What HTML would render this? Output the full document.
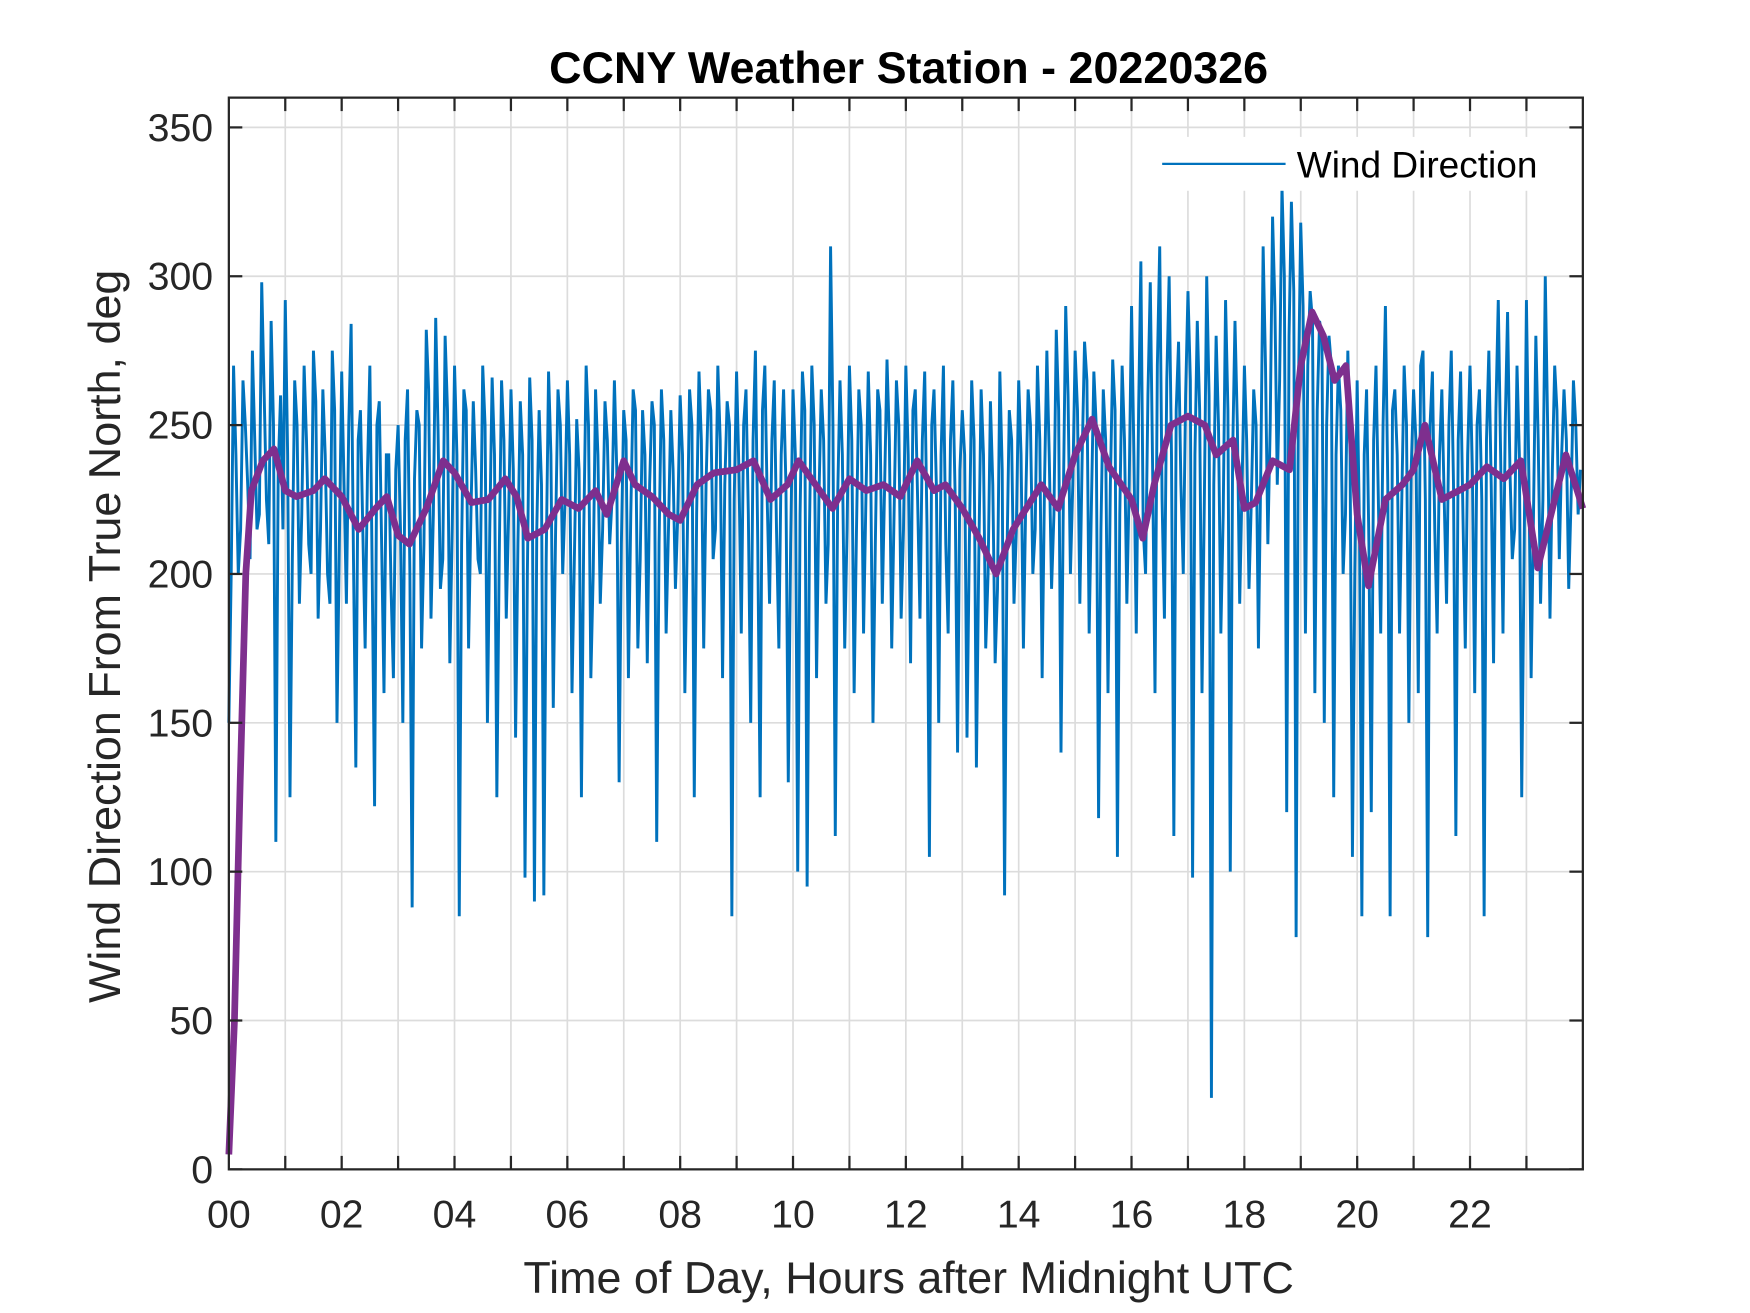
<!DOCTYPE html>
<html><head><meta charset="utf-8"><style>
html,body{margin:0;padding:0;background:#fff;}
svg{display:block;font-family:"Liberation Sans",Arial,sans-serif;}
</style></head><body>
<svg id="chart" width="1750" height="1313" viewBox="0 0 1560 1170" preserveAspectRatio="none" xmlns="http://www.w3.org/2000/svg">
<rect x="0" y="0" width="1560" height="1170" fill="#fff"/>
<g id="grid"></g>
<g id="series"></g>
<g id="axes"></g>
<text x="810" y="74" text-anchor="middle" font-size="40" font-weight="bold" fill="#000">CCNY Weather Station - 20220326</text>
<text x="810" y="1152" text-anchor="middle" font-size="40" fill="#262626">Time of Day, Hours after Midnight UTC</text>
<text transform="translate(107,567) rotate(-90)" text-anchor="middle" font-size="40" fill="#262626">Wind Direction From True North, deg</text>
<g>
<rect x="1028" y="122" width="370" height="48" fill="#fff"/>
<line x1="1036" y1="146" x2="1146" y2="146" stroke="#0072bd" stroke-width="2"/>
<text x="1156" y="158" font-size="33" fill="#000">Wind Direction</text>
</g>
</svg>
<script>
const xTicks = [0,2,4,6,8,10,12,14,16,18,20,22];
const xTickLabels = ["00","02","04","06","08","10","12","14","16","18","20","22"];
const yTicks = [0,50,100,150,200,250,300,350];
const yTickLabels = ["0","50","100","150","200","250","300","350"];
const windRaw = [
150,270,200,265,230,275,215,298,225,285,110,260,
292,125,265,190,270,210,275,185,262,200,275,150,
268,190,284,135,255,175,270,122,258,160,240,165,
250,150,262,88,255,175,282,185,286,195,280,170,
270,85,262,175,258,205,270,150,266,125,265,185,
262,145,258,98,266,90,255,92,268,155,262,200,
265,160,252,125,270,165,262,190,258,210,265,130,
255,165,262,175,255,170,258,110,262,180,255,195,
260,160,262,125,268,175,262,205,270,165,258,85,
268,180,262,150,275,125,270,190,265,175,262,130,
262,100,268,95,270,165,262,190,310,112,265,175,
270,160,262,180,268,150,262,190,272,175,265,185,
270,170,262,185,268,105,262,150,270,180,265,140,
255,145,265,135,262,175,258,170,268,92,255,190,
265,175,262,200,270,165,275,195,282,140,290,200,
275,190,278,180,268,118,262,160,272,105,270,190,
290,180,305,200,298,160,310,185,300,112,278,200,
295,98,285,160,300,24,280,180,292,100,285,190,
270,195,262,175,310,210,320,230,330,120,325,78,
318,180,295,160,285,150,280,125,270,200,275,105,
265,85,262,120,270,180,290,85,262,180,270,150,
262,160,275,78,268,180,262,190,275,112,268,175,
270,160,262,85,275,170,292,180,288,205,270,125,
292,165,280,190,300,185,270,205,262,195,265,220
];
const windMid = [
200,240,215,250,205,245,220,262,210,250,235,215,
240,205,250,220,245,200,258,215,240,190,255,210,
230,250,205,245,215,235,200,250,210,240,195,235,
215,245,200,232,250,210,262,220,248,205,255,215,
240,210,255,220,235,200,250,215,240,205,245,220,
235,210,240,200,245,215,230,205,240,215,250,225,
240,205,235,215,250,200,240,215,245,225,235,210,
245,220,255,205,240,230,250,210,245,215,235,220,
240,210,250,220,245,230,255,215,245,230,250,225,
235,250,220,245,210,255,225,245,215,240,230,210,
240,220,255,215,250,225,245,210,250,225,240,215,
245,215,250,225,240,210,255,230,245,220,250,215,
240,255,225,245,215,250,230,240,210,245,225,235,
240,210,245,205,240,200,230,195,235,205,245,215,
240,225,250,215,245,230,240,220,255,225,260,230,
255,240,265,225,250,215,245,230,255,220,245,230,
240,255,215,260,235,270,225,265,240,255,230,260,
265,240,255,225,260,230,250,220,255,240,250,230,
245,225,250,235,270,250,290,265,300,280,295,260,
290,270,285,255,280,250,270,240,255,220,240,200,
215,240,210,245,225,250,230,255,240,225,250,235,
245,270,225,250,215,240,225,250,230,245,220,240,
235,250,225,245,230,255,240,250,235,215,240,205,
235,220,245,225,250,235,255,240,245,225,250,235
];
const meanHours = [0,0.1,0.2,0.3,0.4,0.6,0.8,1.0,1.2,1.5,1.7,2.0,2.3,2.6,2.8,3.0,3.2,3.5,3.8,4.0,4.3,4.6,4.9,5.1,5.3,5.6,5.9,6.2,6.5,6.7,7.0,7.2,7.5,7.8,8.0,8.3,8.6,9.0,9.3,9.6,9.9,10.1,10.4,10.7,11.0,11.3,11.6,11.9,12.2,12.5,12.7,13.0,13.3,13.6,13.9,14.2,14.4,14.7,15.0,15.3,15.6,16.0,16.2,16.4,16.7,17.0,17.3,17.5,17.8,18.0,18.2,18.5,18.8,19.0,19.2,19.4,19.6,19.8,20.0,20.2,20.5,20.8,21.0,21.2,21.5,21.8,22.0,22.3,22.6,22.9,23.2,23.5,23.7,24];
const meanValues = [5,50,130,200,228,238,242,228,226,228,232,226,215,222,226,213,210,222,238,234,224,225,232,226,212,215,225,222,228,220,238,230,226,220,218,230,234,235,238,225,230,238,230,222,232,228,230,226,238,228,230,222,212,200,215,224,230,222,240,252,236,225,212,230,250,253,250,240,245,222,224,238,235,270,288,280,265,270,220,196,225,230,235,250,225,228,230,236,232,238,202,225,240,222];

const L=204,R=1411,T=87,B=1042;
const xs = h => L + (h/24)*(R-L);
const ys = v => B - (v/360)*(B-T);
const NS="http://www.w3.org/2000/svg";
function mk(tag, attrs, parent){const e=document.createElementNS(NS,tag);for(const k in attrs)e.setAttribute(k,attrs[k]);parent.appendChild(e);return e;}
const grid=document.getElementById('grid'), axes=document.getElementById('axes'), series=document.getElementById('series');
for(let h=1;h<24;h++){
  const g=mk('line',{x1:xs(h),x2:xs(h),y1:T,y2:B,stroke:'#dcdcdc','stroke-width':1.5},grid);
  
  
  const t1=mk('line',{x1:xs(h),x2:xs(h),y1:B,y2:B-12,stroke:'#262626','stroke-width':2},axes);
  
  
  const t2=mk('line',{x1:xs(h),x2:xs(h),y1:T,y2:T+12,stroke:'#262626','stroke-width':2},axes);
  
  
}
yTicks.forEach((v,i)=>{
  if(v>0){
    const g=mk('line',{x1:L,x2:R,y1:ys(v),y2:ys(v),stroke:'#dcdcdc','stroke-width':1.5},grid);
    
    
  }
  const t1=mk('line',{x1:L,x2:L+12,y1:ys(v),y2:ys(v),stroke:'#262626','stroke-width':2},axes);
  
  
  const t2=mk('line',{x1:R,x2:R-12,y1:ys(v),y2:ys(v),stroke:'#262626','stroke-width':2},axes);
  
  
  const tx=mk('text',{x:L-14,y:ys(v)+12,'text-anchor':'end','font-size':35,fill:'#262626'},axes);
  tx.textContent=yTickLabels[i];
  
  
});
xTicks.forEach((h,i)=>{
  const tx=mk('text',{x:xs(h),y:B+52,'text-anchor':'middle','font-size':35,fill:'#262626'},axes);
  tx.textContent=xTickLabels[i];
  
  
});
const frame=mk('rect',{x:L,y:T,width:R-L,height:B-T,fill:'none',stroke:'#262626','stroke-width':2},axes);



const n=windRaw.length;
const step=24/n;
let d='';
windRaw.forEach((v,i)=>{
  const h=i*step;
  d+=(i?'L':'M')+xs(h).toFixed(1)+','+ys(v).toFixed(1);
  if(i<windMid.length){d+='L'+xs(h+step/2).toFixed(1)+','+ys(windMid[i]).toFixed(1);}
});
const wl=mk('path',{d:d,fill:'none',stroke:'#0072bd','stroke-width':2.6,'stroke-linejoin':'miter'},series);


let dm='';
meanHours.forEach((h,i)=>{dm+=(i?'L':'M')+xs(h).toFixed(1)+','+ys(meanValues[i]).toFixed(1);});
const ml=mk('path',{d:dm,fill:'none',stroke:'#7e2f8e','stroke-width':6,'stroke-linejoin':'round'},series);


</script>
</body></html>
